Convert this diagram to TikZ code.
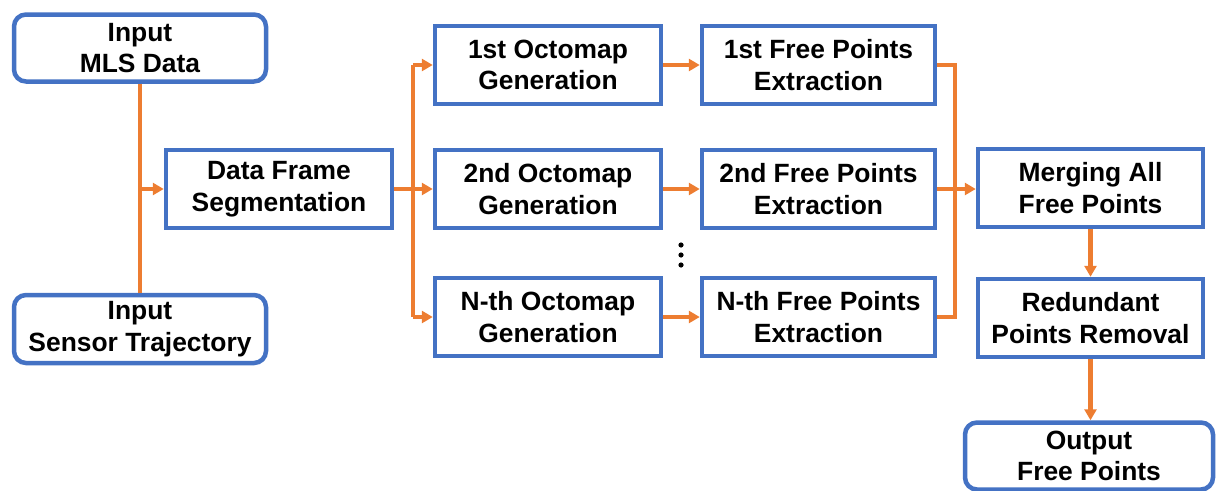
\documentclass[tikz,border=0pt]{standalone}
\usepackage{fontspec}
\setmainfont{Liberation Sans}
\usetikzlibrary{arrows.meta}
\definecolor{boxblue}{RGB}{68,114,196}
\definecolor{flowor}{RGB}{237,125,49}
\tikzset{
  stepbox/.style={draw=boxblue, line width=4.5pt, fill=white, inner sep=0pt,
    minimum width=226pt, minimum height=78pt, align=center,
    font=\fontsize{26.4}{31.5}\selectfont\bfseries},
  iobox/.style={stepbox, rounded corners=12pt, minimum width=252pt, minimum height=67pt},
  flow/.style={draw=flowor, line width=4.5pt},
  flowarr/.style={flow, -{Triangle[length=11pt,width=12pt]}},
}
\begin{document}
\begin{tikzpicture}[x=1pt,y=-1pt]
\useasboundingbox (0,0) rectangle (1217,490);

% input / output nodes
\node[iobox] (mls)  at (140,48)  {Input\\MLS Data};
\node[iobox, minimum height=68pt] (traj) at (140,329) {Input\\Sensor Trajectory};
\node[stepbox] (seg) at (279,189) {Data Frame\\Segmentation};

% octomap generation column
\node[stepbox] (oct1) at (548,65)  {1st Octomap\\Generation};
\node[stepbox] (oct2) at (548,189) {2nd Octomap\\Generation};
\node[stepbox] (octN) at (548,317) {N-th Octomap\\Generation};

% free points extraction column
\node[stepbox, minimum width=233pt] (fp1) at (818.5,65)  {1st Free Points\\Extraction};
\node[stepbox, minimum width=233pt] (fp2) at (818.5,189) {2nd Free Points\\Extraction};
\node[stepbox, minimum width=233pt] (fpN) at (818.5,317) {N-th Free Points\\Extraction};

% merging and post-processing
\node[stepbox, minimum width=225pt] (merge) at (1090.5,188) {Merging All\\Free Points};
\node[stepbox, minimum width=225pt] (red)   at (1090.5,318) {Redundant\\Points Removal};
\node[iobox, minimum width=248pt] (out) at (1089,456) {Output\\Free Points};

% vertical ellipsis between the 2nd and N-th rows
\fill (681,245) circle (2.6pt);
\fill (681,255) circle (2.6pt);
\fill (681,265) circle (2.6pt);

% inputs into segmentation
\draw[flow] (mls.south) -- (traj.north);
\draw[flowarr] (mls.south |- seg.west) -- (seg.west);

% split into frames
\coordinate (split) at (413,189);
\draw[flow] (seg.east) -- (split);
\draw[flow] (split |- oct1.west) -- (split |- octN.west);
\foreach \n in {oct1,oct2,octN}
  \draw[flowarr] (split |- \n.west) -- (\n.west);

% octomap to free points
\draw[flowarr] (oct1.east) -- (fp1.west);
\draw[flowarr] (oct2.east) -- (fp2.west);
\draw[flowarr] (octN.east) -- (fpN.west);

% merge
\coordinate (join) at (955,189);
\draw[flow] (fp1.east) -- (join |- fp1.east) -- (join |- fpN.east) -- (fpN.east);
\draw[flowarr] (fp2.east) -- (fp2.east -| merge.west);

% post-processing chain
\draw[flowarr] (merge.south) -- (merge.south |- red.north);
\draw[flowarr] (red.south) -- (red.south |- out.north);
\end{tikzpicture}
\end{document}
